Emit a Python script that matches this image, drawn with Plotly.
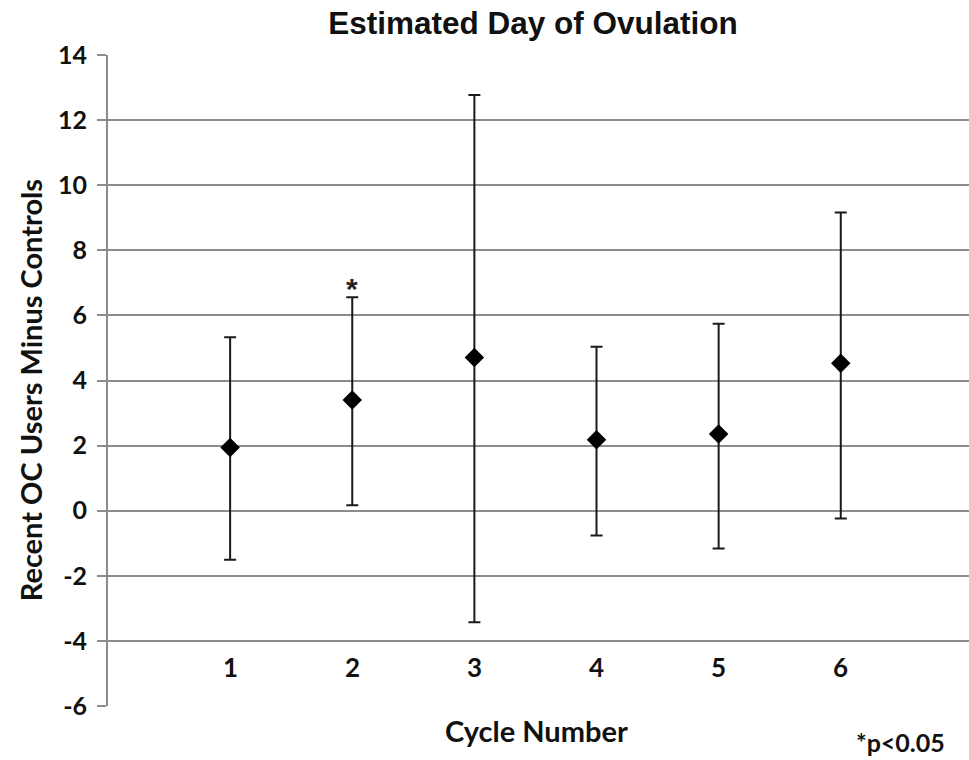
import plotly.graph_objects as go

cycles = [1, 2, 3, 4, 5, 6]
cycle_labels = ["1", "2", "3", "4", "5", "6"]
mean_diff = [1.94, 3.40, 4.71, 2.18, 2.36, 4.53]
upper = [5.33, 6.56, 12.77, 5.04, 5.74, 9.16]
lower = [-1.51, 0.17, -3.43, -0.76, -1.16, -0.24]
sig = ["", "*", "", "", "", ""]
y_ticks = [14, 12, 10, 8, 6, 4, 2, 0, -2, -4, -6]

err_plus = [u - m for u, m in zip(upper, mean_diff)]
err_minus = [m - l for m, l in zip(mean_diff, lower)]

LATO = "Lato, Calibri, Carlito, sans-serif"
GRID = "#8c8c8c"

fig = go.Figure()
fig.add_trace(go.Scatter(
    x=cycles, y=mean_diff, mode="markers",
    marker=dict(symbol="diamond", size=15, color="black"),
    error_y=dict(type="data", symmetric=False, array=err_plus, arrayminus=err_minus,
                 color="#1a1a1a", thickness=2, width=6),
    showlegend=False, hoverinfo="skip",
))

annotations = []
for c, u, s in zip(cycles, upper, sig):
    if s:
        annotations.append(dict(x=c, y=u, xref="x", yref="y", text=f"<b>{s}</b>",
                                showarrow=False, xanchor="center", yanchor="bottom",
                                yshift=-10,
                                font=dict(family="Liberation Sans, Arial, sans-serif",
                                          size=30, color="#222")))
for c, lab in zip(cycles, cycle_labels):
    annotations.append(dict(x=c, y=-4.8, xref="x", yref="y", text=f"<b>{lab}</b>",
                            showarrow=False, xanchor="center", yanchor="middle",
                            font=dict(family=LATO, size=26, color="#111")))
annotations.append(dict(x=0, y=0.485, xref="paper", yref="paper", xshift=-78,
                        text="<b>Recent OC Users Minus Controls</b>", textangle=-90,
                        showarrow=False, xanchor="center", yanchor="middle",
                        font=dict(family=LATO, size=29, color="#111")))
annotations.append(dict(x=0.498, y=-0.037, xref="paper", yref="paper",
                        text="<b>Cycle Number</b>", showarrow=False,
                        xanchor="center", yanchor="middle",
                        font=dict(family=LATO, size=29, color="#111")))
annotations.append(dict(x=0.921, y=-0.055, xref="paper", yref="paper",
                        text="<b>*p&lt;0.05</b>", showarrow=False,
                        xanchor="center", yanchor="middle",
                        font=dict(family=LATO, size=25, color="#111")))

fig.update_layout(
    width=969, height=760,
    margin=dict(l=108, r=0, t=55, b=54),
    paper_bgcolor="white", plot_bgcolor="white",
    title=dict(text="<b>Estimated Day of Ovulation</b>", xref="container", yref="container",
               x=533 / 969, y=1 - 23 / 760, xanchor="center", yanchor="middle",
               font=dict(family="Liberation Sans, Arial, sans-serif", size=31.5, color="#111")),
    xaxis=dict(range=[0, 7.05], showgrid=False, zeroline=False, showticklabels=False,
               ticks="", showline=False, fixedrange=True),
    yaxis=dict(range=[-6, 14], tickvals=y_ticks, ticktext=[f"<b>{t}</b>" for t in y_ticks],
               showgrid=True, gridcolor=GRID, gridwidth=2, zeroline=False,
               showline=True, linecolor=GRID, linewidth=2,
               ticks="outside", ticklen=9, tickcolor=GRID, tickwidth=2,
               ticklabelstandoff=5,
               tickfont=dict(family=LATO, size=25, color="#111")),
    annotations=annotations,
)

fig.write_html("out.html")
